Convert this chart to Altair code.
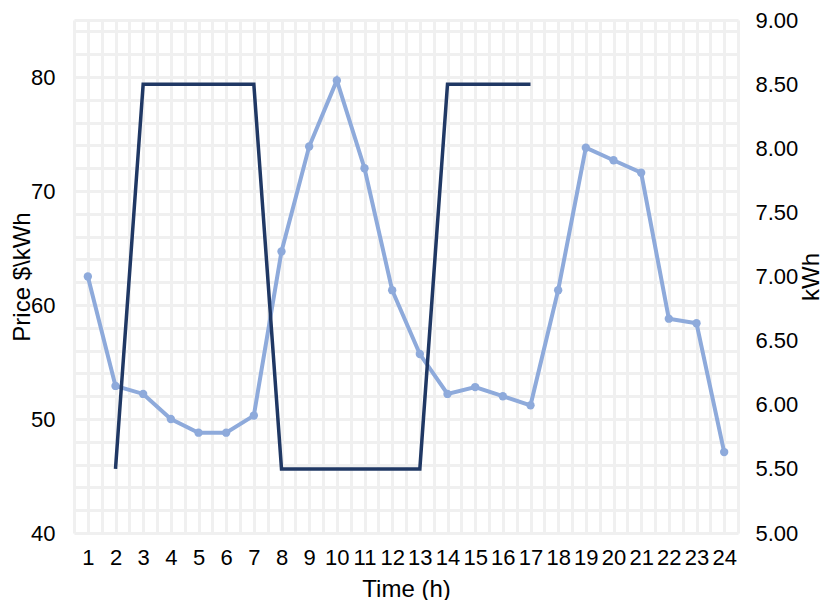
import altair as alt
import pandas as pd

hours = list(range(1, 25))
price = [62.5, 52.9, 52.2, 50.0, 48.8, 48.8, 50.3, 64.7, 73.9, 79.7, 72.0, 61.3,
         55.7, 52.2, 52.8, 52.0, 51.2, 61.3, 73.8, 72.7, 71.6, 58.8, 58.4, 47.1]
kwh_hours = list(range(2, 18))
kwh = [5.5, 8.5, 8.5, 8.5, 8.5, 8.5, 5.5, 5.5, 5.5, 5.5, 5.5, 5.5, 8.5, 8.5, 8.5, 8.5]

price_df = pd.DataFrame({"hour": hours, "price": price})
kwh_df = pd.DataFrame({"hour": kwh_hours, "kwh": kwh})

FONT = "Liberation Sans"
GRID = "#f0f0f0"
W, H = 664, 513

half_vals = [0.5 + i for i in range(25)]
x_scale = alt.Scale(domain=[0.5, 24.5], nice=False, zero=False)

# grid-only axis at category boundaries
x_grid = alt.X(
    "hour:Q", scale=x_scale,
    axis=alt.Axis(
        orient="bottom", values=half_vals, labels=False, title=None,
        grid=True, gridColor=GRID, gridWidth=3, domain=False, ticks=False,
    ),
)

# labelled axis at category centres
x_lab = alt.X(
    "hour:Q", scale=x_scale,
    axis=alt.Axis(
        orient="bottom", values=hours, format="d",
        title="Time (h)",
        grid=True, gridColor=GRID, gridWidth=3,
        domain=False, ticks=False,
        labelOverlap=False, labelFlush=False,
        labelPadding=14, labelFontSize=22, labelFont=FONT, labelColor="#000000",
        titleFontSize=24, titleFont=FONT, titleFontWeight="normal", titleColor="#000000",
        titleX=W / 2, titleY=56, titleBaseline="middle", titleAlign="center",
    ),
)

y_vals = list(range(40, 86, 2)) + [85]
price_line = alt.Chart(price_df).mark_line(
    color="#8eaadb", strokeWidth=4,
    point=alt.OverlayMarkDef(color="#8eaadb", filled=True, size=70, opacity=1),
).encode(
    x=x_grid,
    y=alt.Y(
        "price:Q",
        scale=alt.Scale(domain=[40, 85], nice=False, zero=False),
        axis=alt.Axis(
            values=y_vals,
            labelExpr="datum.value % 10 === 0 ? format(datum.value, 'd') : ''",
            format="d",
            title="Price $\\kWh",
            grid=True, gridColor=GRID, gridWidth=3,
            domain=False, ticks=False, labelOverlap=False, labelFlush=False,
            labelPadding=19, labelFontSize=22, labelFont=FONT, labelColor="#000000",
            titleFontSize=24, titleFont=FONT, titleFontWeight="normal", titleColor="#000000",
            titleX=-52, titleY=H / 2, titleAngle=270, titleBaseline="middle", titleAlign="center",
        ),
    ),
)

kwh_line = alt.Chart(kwh_df).mark_line(
    color="#203864", strokeWidth=3.5, strokeJoin="miter",
).encode(
    x=x_lab,
    y=alt.Y(
        "kwh:Q",
        scale=alt.Scale(domain=[5, 9], nice=False, zero=False),
        axis=alt.Axis(
            orient="right",
            values=[5 + 0.5 * i for i in range(9)],
            format=".2f",
            title="kWh",
            grid=False, domain=False, ticks=False, labelOverlap=False, labelFlush=False,
            labelPadding=17, labelFontSize=22, labelFont=FONT, labelColor="#000000",
            titleFontSize=24, titleFont=FONT, titleFontWeight="normal", titleColor="#000000",
            titleX=73, titleY=H / 2, titleAngle=270, titleBaseline="middle", titleAlign="center",
        ),
    ),
)

chart = alt.layer(price_line, kwh_line).resolve_scale(
    x="independent", y="independent"
).properties(
    width=W, height=H,
    autosize=alt.AutoSizeParams(type="none"),
    padding={"left": 66, "top": 12, "right": 84, "bottom": 67},
    background="white",
).configure_view(strokeWidth=0)

chart.save("out.html", embed_options={"renderer": "svg", "actions": False})
